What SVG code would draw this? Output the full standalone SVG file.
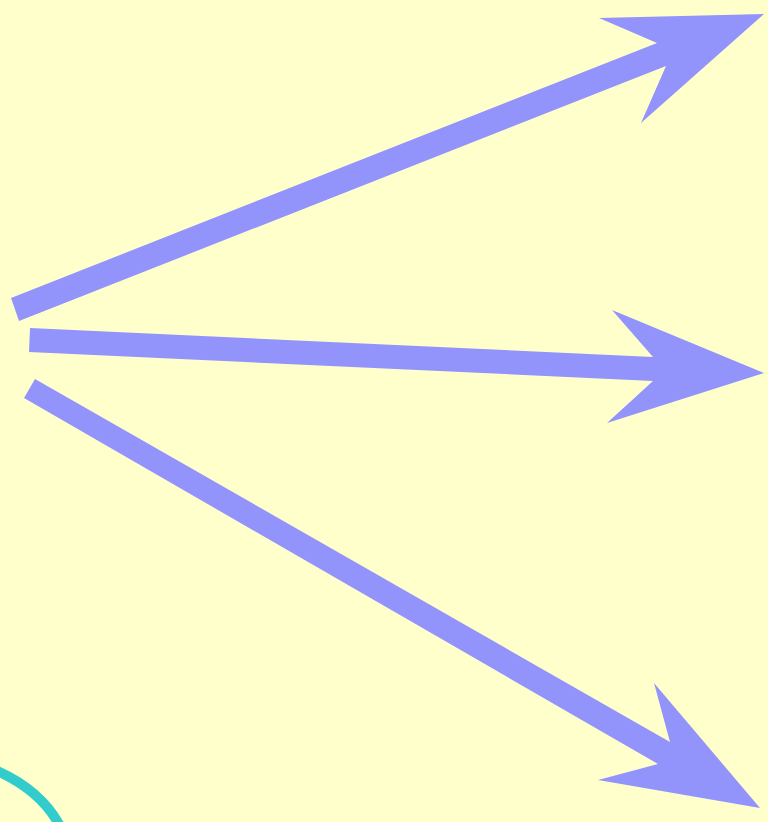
<svg xmlns="http://www.w3.org/2000/svg" width="768" height="822" viewBox="0 0 768 822">
<style>
.arrow{fill:#9393FC;stroke:none}
.curve{fill:none;stroke:#33CCCC;stroke-width:10}
</style>
<rect width="768" height="822" fill="#FFFFCC"/>
<g id="connectors">
<polygon class="arrow" points="11,298 657,43 599,18 764,14 641,123 666,66 19,321"/>
<polygon class="arrow" points="30,328 653,357 612,310 764,373 607,423 653,381 29,352"/>
<polygon class="arrow" points="35,379 670,742 654,683 760,808 598,780 658,764 24,398"/>
<path class="curve" d="M -10,768 C 15,778 45,795 62,830"/>
</g>
</svg>
